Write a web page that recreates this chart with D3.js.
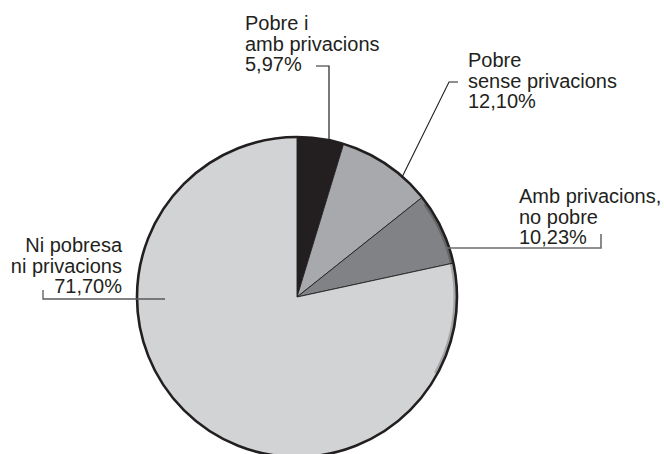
<!DOCTYPE html>
<html>
<head>
<meta charset="utf-8">
<script src="https://cdn.jsdelivr.net/npm/d3@7"></script>
<style>
  html, body { margin: 0; background: #fff; }
</style>
</head>
<body>
<div id="chart"></div>
<script>
//--------------------------------------------------
// Dades
//--------------------------------------------------
const categories  = ["Pobre i amb privacions", "Pobre sense privacions", "Amb privacions, no pobre", "Ni pobresa ni privacions"];
const labelLines  = [["Pobre i", "amb privacions"], ["Pobre", "sense privacions"], ["Amb privacions,", "no pobre"], ["Ni pobresa", "ni privacions"]];
const labelValues = ["5,97%", "12,10%", "10,23%", "71,70%"];
// shares as the slices are actually drawn in the original (read from the slice edges)
const drawnShares = [4.7, 9.6, 7.3, 78.4];

//--------------------------------------------------
// Estil
//--------------------------------------------------
const COLORS = ["#231f20", "#a7a9ac", "#808285", "#d1d3d4"];
const INK = "#231f20";
const FONT = "'Liberation Sans', Arial, Helvetica, sans-serif";

const W = 664, H = 454;
const cx = 297, cy = 297, R = 160;

const svg = d3.select("#chart")
  .append("svg")
  .attr("width", W)
  .attr("height", H);

const g = svg.append("g").attr("transform", `translate(${cx},${cy})`);

const pie = d3.pie().sort(null).value(d => d);
const arcs = pie(drawnShares);
const arc = d3.arc().innerRadius(0).outerRadius(R);

g.selectAll("path.slice")
  .data(arcs)
  .enter()
  .append("path")
  .attr("class", "slice")
  .attr("d", arc)
  .attr("fill", (d, i) => COLORS[i])
  .attr("stroke", INK)
  .attr("stroke-width", 0.9)
  .attr("stroke-linejoin", "round");

// ombra del cantell dret
g.append("path")
  .attr("d", d3.arc().innerRadius(R - 3.5).outerRadius(R)
    .startAngle(Math.PI * 0.30).endAngle(Math.PI * 0.66)())
  .attr("fill", "#000")
  .attr("opacity", 0.22);

// contorn
g.append("circle")
  .attr("r", R)
  .attr("fill", "none")
  .attr("stroke", INK)
  .attr("stroke-width", 2.6);

//--------------------------------------------------
// Etiquetes
//--------------------------------------------------
const edgeY = x => cy - Math.sqrt(R * R - (x - cx) ** 2);

const labels = [
  { x: 245, y: 30, anchor: "start",
    leader: [[316, 66], [329, 66], [329, edgeY(329) + 1]], color: INK, w: 1.2 },
  { x: 468, y: 67, anchor: "start",
    leader: [[458, 82], [449, 82], [402, edgeY(402) + 1]], color: INK, w: 1.1 },
  { x: 519, y: 203, anchor: "start",
    leader: [[601, 234], [601, 248], [446, 248]], color: "#6d6e71", w: 1.6 },
  { x: 122, y: 252, anchor: "end",
    leader: [[43, 290], [43, 299], [165, 299]], color: "#58595b", w: 1.3 }
];

const line = d3.line();

labels.forEach((l, i) => {
  svg.append("path")
    .attr("d", line(l.leader))
    .attr("fill", "none")
    .attr("stroke", l.color)
    .attr("stroke-width", l.w);

  const t = svg.append("text")
    .attr("x", l.x)
    .attr("y", l.y)
    .attr("text-anchor", l.anchor)
    .attr("font-family", FONT)
    .attr("font-size", 20)
    .attr("fill", INK);

  labelLines[i].concat([labelValues[i]]).forEach((s, k) => {
    t.append("tspan")
      .attr("x", l.x)
      .attr("dy", k === 0 ? 0 : 20.5)
      .text(s);
  });
});
</script>
</body>
</html>
